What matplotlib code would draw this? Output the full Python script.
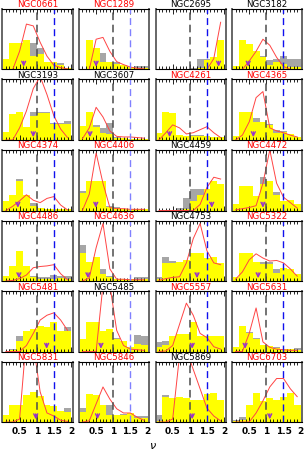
import numpy as np
import matplotlib
matplotlib.use('Agg')
import matplotlib.pyplot as plt
from matplotlib.ticker import MultipleLocator

# galaxy names, row by row
galaxies = ['NGC0661', 'NGC1289', 'NGC2695', 'NGC3182',
            'NGC3193', 'NGC3607', 'NGC4261', 'NGC4365',
            'NGC4374', 'NGC4406', 'NGC4459', 'NGC4472',
            'NGC4486', 'NGC4636', 'NGC4753', 'NGC5322',
            'NGC5481', 'NGC5485', 'NGC5557', 'NGC5631',
            'NGC5831', 'NGC5846', 'NGC5869', 'NGC6703']
title_red = [1, 1, 0, 0,
             0, 0, 1, 1,
             1, 1, 0, 1,
             1, 1, 0, 1,
             1, 0, 1, 1,
             1, 1, 0, 1]

# histogram bins (nu) and curve points at bin centres
bin_edges = np.arange(0, 2.01, 0.2)
centres = bin_edges[:-1] + 0.1

# yellow histogram (normalised panel height)
yellow = [
    [0.18, 0.43, 0.43, 0.48, 0.23, 0.26, 0.12, 0.12, 0.08, 0.02],
    [0.00, 0.49, 0.35, 0.12, 0.12, 0.09, 0.08, 0.04, 0.02, 0.02],
    [0, 0, 0, 0, 0, 0.01, 0.02, 0.16, 0.21, 0.49],
    [0.05, 0.49, 0.42, 0.31, 0.20, 0.07, 0.12, 0.09, 0.04, 0.04],
    [0.13, 0.43, 0.47, 0.22, 0.40, 0.45, 0.45, 0.26, 0.26, 0.26],
    [0.23, 0.47, 0.22, 0.12, 0.10, 0.04, 0.03, 0.02, 0.02, 0.02],
    [0.12, 0.47, 0.44, 0.09, 0.07, 0.07, 0.07, 0.06, 0.05, 0.05],
    [0.07, 0.47, 0.47, 0.29, 0.30, 0.24, 0.12, 0.14, 0.10, 0.05],
    [0.15, 0.26, 0.48, 0.26, 0.08, 0.04, 0.03, 0.03, 0.03, 0.03],
    [0.29, 0.48, 0.48, 0.48, 0.06, 0.04, 0.03, 0.02, 0.02, 0.02],
    [0, 0, 0, 0.01, 0.02, 0.16, 0.26, 0.35, 0.48, 0.43],
    [0.10, 0.40, 0.40, 0.24, 0.43, 0.48, 0.25, 0.15, 0.18, 0.10],
    [0.08, 0.25, 0.49, 0.25, 0.07, 0.04, 0.04, 0.04, 0.05, 0.04],
    [0.46, 0.32, 0.40, 0.12, 0.06, 0.04, 0.03, 0.03, 0.02, 0.04],
    [0.04, 0.30, 0.30, 0.32, 0.34, 0.47, 0.47, 0.38, 0.40, 0.29],
    [0.07, 0.46, 0.46, 0.32, 0.28, 0.28, 0.14, 0.22, 0.20, 0.12],
    [0.00, 0.02, 0.18, 0.34, 0.37, 0.43, 0.40, 0.48, 0.34, 0.34],
    [0.21, 0.49, 0.49, 0.34, 0.37, 0.20, 0.18, 0.07, 0.12, 0.11],
    [0.07, 0.10, 0.25, 0.29, 0.29, 0.48, 0.26, 0.26, 0.25, 0.25],
    [0.07, 0.43, 0.31, 0.21, 0.10, 0.09, 0.06, 0.04, 0.04, 0.03],
    [0.12, 0.29, 0.29, 0.45, 0.49, 0.43, 0.29, 0.26, 0.18, 0.17],
    [0.17, 0.47, 0.45, 0.29, 0.12, 0.12, 0.12, 0.15, 0.07, 0.06],
    [0.01, 0.42, 0.40, 0.42, 0.39, 0.36, 0.36, 0.46, 0.48, 0.36],
    [0.02, 0.04, 0.29, 0.48, 0.34, 0.40, 0.36, 0.42, 0.48, 0.28],
]

# grey histogram behind the yellow one
grey = [
    [0.18, 0.43, 0.43, 0.43, 0.43, 0.35, 0.12, 0.10, 0.10, 0.02],
    [0.00, 0.49, 0.35, 0.28, 0.12, 0.12, 0.08, 0.04, 0.06, 0.06],
    [0, 0, 0, 0, 0, 0.02, 0.18, 0.18, 0.21, 0.49],
    [0.05, 0.49, 0.42, 0.31, 0.23, 0.16, 0.18, 0.23, 0.18, 0.18],
    [0.13, 0.43, 0.47, 0.22, 0.46, 0.46, 0.46, 0.28, 0.28, 0.32],
    [0.23, 0.47, 0.25, 0.20, 0.28, 0.05, 0.03, 0.02, 0.02, 0.02],
    [0.12, 0.47, 0.44, 0.09, 0.07, 0.08, 0.08, 0.07, 0.05, 0.05],
    [0.07, 0.47, 0.47, 0.37, 0.30, 0.27, 0.17, 0.15, 0.10, 0.05],
    [0.15, 0.26, 0.52, 0.26, 0.13, 0.04, 0.03, 0.03, 0.03, 0.03],
    [0.32, 0.48, 0.48, 0.48, 0.07, 0.05, 0.03, 0.02, 0.02, 0.02],
    [0, 0, 0, 0.04, 0.20, 0.35, 0.36, 0.36, 0.48, 0.43],
    [0.10, 0.40, 0.40, 0.24, 0.55, 0.48, 0.30, 0.15, 0.18, 0.10],
    [0.08, 0.25, 0.49, 0.25, 0.08, 0.06, 0.06, 0.10, 0.08, 0.08],
    [0.60, 0.32, 0.40, 0.20, 0.08, 0.04, 0.03, 0.03, 0.06, 0.06],
    [0.06, 0.40, 0.33, 0.32, 0.34, 0.47, 0.47, 0.38, 0.40, 0.29],
    [0.07, 0.46, 0.46, 0.32, 0.32, 0.32, 0.20, 0.22, 0.20, 0.12],
    [0.00, 0.05, 0.25, 0.34, 0.37, 0.43, 0.40, 0.48, 0.34, 0.41],
    [0.21, 0.49, 0.49, 0.34, 0.37, 0.23, 0.18, 0.08, 0.27, 0.26],
    [0.15, 0.18, 0.25, 0.29, 0.29, 0.48, 0.26, 0.26, 0.25, 0.25],
    [0.07, 0.43, 0.33, 0.22, 0.11, 0.09, 0.07, 0.05, 0.05, 0.06],
    [0.12, 0.29, 0.29, 0.45, 0.49, 0.43, 0.29, 0.26, 0.18, 0.23],
    [0.23, 0.47, 0.45, 0.29, 0.28, 0.12, 0.14, 0.15, 0.10, 0.10],
    [0.11, 0.45, 0.40, 0.42, 0.39, 0.36, 0.36, 0.46, 0.48, 0.36],
    [0.04, 0.08, 0.29, 0.48, 0.34, 0.40, 0.36, 0.42, 0.48, 0.28],
]

# red curve values at bin centres
red_curve = [
    [0, 0, 0.30, 0.75, 0.72, 0.45, 0.22, 0.07, 0.03, 0.01],
    [0, 0, 0.50, 0.53, 0.30, 0.13, 0.08, 0.04, 0.02, 0.01],
    [0, 0, 0, 0, 0, 0, 0, 0, 0.18, 0.78],
    [0, 0, 0.14, 0.30, 0.50, 0.40, 0.20, 0.05, 0, 0],
    [0, 0, 0.20, 0.48, 0.85, 1.05, 0.75, 0.40, 0.18, 0.04],
    [0.02, 0.20, 0.54, 0.38, 0.15, 0.06, 0.05, 0.05, 0.04, 0.03],
    [0, 0.12, 0.25, 0.20, 0.10, 0.12, 0.17, 0.22, 0.12, 0.04],
    [0, 0.08, 0.30, 0.70, 0.80, 0.20, 0.15, 0.12, 0.08, 0.05],
    [0, 0.07, 0.16, 0.26, 0.17, 0.13, 0.20, 0.23, 0.09, 0.01],
    [0, 0.27, 0.95, 0.45, 0.05, 0.03, 0.03, 0.02, 0.02, 0.02],
    [0, 0, 0, 0, 0, 0, 0.10, 0.38, 0.55, 0.52],
    [0.01, 0.03, 0.05, 0.08, 0.45, 1.00, 0.45, 0.22, 0.13, 0.04],
    [0, 0.01, 0.04, 0.10, 0.22, 0.24, 0.25, 0.27, 0.12, 0.02],
    [0, 0.05, 0.55, 0.95, 0.20, 0.03, 0.03, 0.02, 0.02, 0.02],
    [0.01, 0.04, 0.06, 0.07, 0.30, 0.70, 0.95, 0.50, 0.30, 0.27],
    [0.03, 0.15, 0.35, 0.45, 0.38, 0.33, 0.34, 0.30, 0.20, 0.08],
    [0, 0, 0, 0.10, 0.30, 0.52, 0.60, 0.64, 0.52, 0.35],
    [0, 0, 0, 1.10, 1.10, 0.35, 0.10, 0.04, 0.03, 0.02],
    [0, 0.01, 0.10, 0.45, 0.80, 0.60, 0.30, 0.23, 0.08, 0.04],
    [0, 0, 0.30, 0.72, 0.16, 0.07, 0.04, 0.03, 0.02, 0.02],
    [0, 0, 0.05, 1.40, 1.30, 0.50, 0.15, 0.10, 0.03, 0.01],
    [0, 0.02, 0.30, 0.58, 0.38, 0.22, 0.15, 0.15, 0.08, 0.03],
    [0, 0, 0.05, 1.10, 1.20, 0.87, 0.55, 0.23, 0.10, 0.02],
    [0, 0, 0, 0.15, 0.35, 0.58, 0.72, 0.72, 0.55, 0.42],
]

# purple arrow positions
arrow_nu = [0.62, 0.50, 1.84, 0.47,
            0.90, 0.32, 0.41, 0.62,
            0.45, 0.49, 1.64, 0.90,
            0.48, 0.26, 1.21, 0.76,
            1.29, 0.64, 1.07, 0.38,
            0.97, 0.54, 1.07, 1.10]

ref_lines = [1.0, 1.5]

fig, axes = plt.subplots(6, 4, figsize=(3.06, 4.52), dpi=100, sharex=True)
fig.subplots_adjust(left=0.008, right=0.988, top=0.978, bottom=0.064,
                    wspace=0.09, hspace=0.165)

for i, ax in enumerate(axes.flat):
    row, col = divmod(i, 4)
    ax.bar(bin_edges[:-1], grey[i], width=0.2, align='edge',
           color='#a6a6a6', linewidth=0)
    ax.bar(bin_edges[:-1], yellow[i], width=0.2, align='edge',
           color='#ffff00', linewidth=0)
    ax.plot(centres, red_curve[i], color='#ff4444', lw=0.7)
    ax.axvline(ref_lines[0], color='0.3', lw=1.1, dashes=(5, 3))
    blue = '#8080ff' if col == 1 else '#1010ee'
    ax.axvline(ref_lines[1], color=blue, lw=1.0, dashes=(5, 3))
    ax.annotate('', xy=(arrow_nu[i], 0.0), xytext=(arrow_nu[i], 0.18),
                arrowprops=dict(arrowstyle='->', color='#9933cc', lw=1.0,
                                mutation_scale=7))
    ax.set_xlim(0, 2.05)
    ax.set_ylim(0, 1)
    ax.set_yticks([])
    ax.xaxis.set_major_locator(MultipleLocator(0.5))
    ax.xaxis.set_minor_locator(MultipleLocator(0.1))
    ax.tick_params(axis='x', which='both', direction='in', top=True,
                   bottom=True, width=0.6, labelsize=6.5, pad=3)
    ax.tick_params(axis='x', which='major', length=3.5)
    ax.tick_params(axis='x', which='minor', length=2)
    for side in ['left', 'right']:
        ax.spines[side].set_color('0.4')
        ax.spines[side].set_linewidth(1.4)
    for side in ['top', 'bottom']:
        ax.spines[side].set_linewidth(0.8)
    ax.set_title(galaxies[i], fontsize=6.2, pad=1.8,
                 color='red' if title_red[i] else 'black')
    if row == 5:
        ax.set_xticks([0.5, 1, 1.5, 2])
        ax.set_xticklabels(['0.5', '1', '1.5', '2'], fontweight='bold')

fig.text(0.5, 0.002, r'$\nu$', ha='center', va='bottom', fontsize=8)

fig.savefig('out.png', dpi=100)
